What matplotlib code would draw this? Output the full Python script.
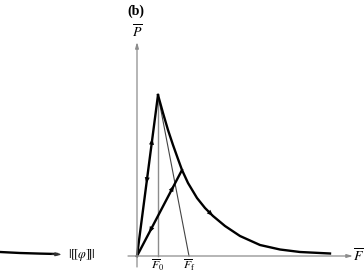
import matplotlib.pyplot as plt
import numpy as np

plt.rcParams["mathtext.fontset"] = "stix"
plt.rcParams["font.family"] = "serif"
plt.rcParams["font.serif"] = ["Liberation Serif", "DejaVu Serif"]

# Panel (b): peak load, fracture energy end point, softening branch
F0 = 21
P_max = 161
F_f = 52
soft_F = [21, 26, 31, 36, 41, 45, 51, 60, 68, 76, 88, 103, 123, 143, 163, 193]
soft_P = [161, 143, 126, 111, 97, 86, 73, 58, 48, 40, 30, 20, 11, 6.5, 4, 2.5]
# unloading point on the softening branch
unload_F = 45
unload_P = 86

# Panel (a), only the tail is visible
tail_x = [-137, -117, -97, -80]
tail_P = [4, 3, 2.4, 2]

fig = plt.figure(figsize=(3.64, 2.74), dpi=100)
ax = fig.add_axes([0, 0, 1, 1])
ax.set_xlim(-137, 227)
ax.set_ylim(-18, 256)
ax.axis("off")

grey = "#8c8c8c"
lw = 1.7


def arrow_on(ax, p0, p1, frac, color="black"):
    p0 = np.array(p0, float)
    p1 = np.array(p1, float)
    tip = p0 + frac * (p1 - p0)
    back = tip - 0.06 * (p1 - p0) / np.linalg.norm(p1 - p0) * 60
    ax.annotate("", xy=tip, xytext=back,
                arrowprops=dict(arrowstyle="-|>,head_length=0.45,head_width=0.18",
                                color=color, lw=0, shrinkA=0, shrinkB=0))


# axes of panel (b)
ax.annotate("", xy=(216, 0), xytext=(-9, 0),
            arrowprops=dict(arrowstyle="-|>,head_length=0.35,head_width=0.1",
                            color=grey, lw=0.9, shrinkA=0, shrinkB=0))
ax.annotate("", xy=(0, 214), xytext=(0, -11),
            arrowprops=dict(arrowstyle="-|>,head_length=0.35,head_width=0.1",
                            color=grey, lw=0.9, shrinkA=0, shrinkB=0))
ax.text(0, 224, r"$\overline{P}$", ha="center", va="center", fontsize=10)
ax.text(221, 0, r"$\overline{F}$", ha="center", va="center", fontsize=10)
ax.text(-10, 245, "(b)", ha="left", va="center", fontsize=10, fontweight="bold")

# F0 marker line and linear softening line
ax.plot([F0, F0], [0, P_max], color=grey, lw=1.0)
ax.plot([F0, F_f], [P_max, 0], color="#444444", lw=0.8)
ax.text(F0, -9, r"$\overline{F}_0$", ha="center", va="center", fontsize=8.5)
ax.text(F_f, -9, r"$\overline{F}_{\rm f}$", ha="center", va="center", fontsize=8.5)

# loading / unloading to the peak
ax.plot([0, F0], [0, P_max], color="black", lw=lw)
arrow_on(ax, (0, 0), (F0, P_max), 0.73)
arrow_on(ax, (F0, P_max), (0, 0), 0.55)

# softening branch
ax.plot(soft_F, soft_P, color="black", lw=lw, solid_joinstyle="round")
arrow_on(ax, (68, 48), (76, 40), 1.0)

# unloading / reloading from the softening branch
ax.plot([0, unload_F], [0, unload_P], color="black", lw=lw)
arrow_on(ax, (0, 0), (unload_F, unload_P), 0.82)
arrow_on(ax, (unload_F, unload_P), (0, 0), 0.73)

# tail of panel (a)
ax.plot(tail_x, tail_P, color="black", lw=lw)
ax.annotate("", xy=(-75, 1.5), xytext=(-85, 1.8),
            arrowprops=dict(arrowstyle="-|>,head_length=0.35,head_width=0.1",
                            color="#333333", lw=0.9, shrinkA=0, shrinkB=0))
ax.text(-69, 1, r"$|[\![\varphi]\!]|$", ha="left", va="center", fontsize=9)

plt.savefig("out.png", dpi=100)
